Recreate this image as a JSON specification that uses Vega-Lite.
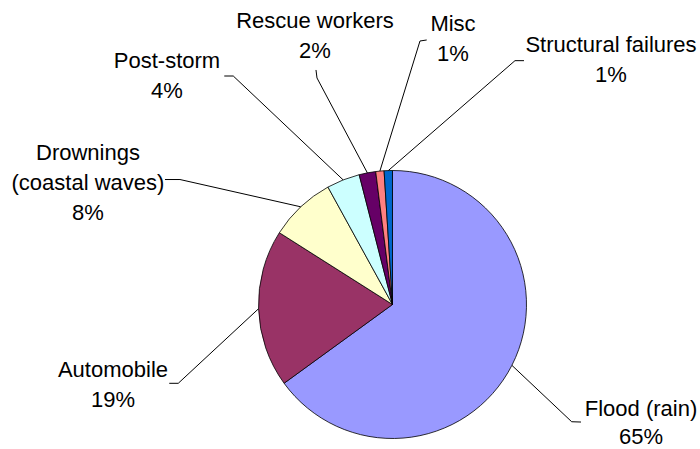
{
  "$schema": "https://vega.github.io/schema/vega-lite/v6.json",
  "width": 700,
  "height": 449,
  "padding": 0,
  "autosize": {"type": "none"},
  "background": "white",
  "config": {
    "view": {"stroke": null},
    "text": {"font": "Liberation Sans", "fontSize": 22, "lineHeight": 30, "align": "center", "baseline": "alphabetic", "lineBreak": "\n", "color": "#000000"},
    "rule": {"color": "#000000", "strokeWidth": 1}
  },
  "data": {
    "values": [
      {"cause": "Flood (rain)", "pct": 65, "label": "Flood (rain)\n65%"},
      {"cause": "Automobile", "pct": 19, "label": "Automobile\n19%"},
      {"cause": "Drownings (coastal waves)", "pct": 8, "label": "Drownings\n(coastal waves)\n8%"},
      {"cause": "Post-storm", "pct": 4, "label": "Post-storm\n4%"},
      {"cause": "Rescue workers", "pct": 2, "label": "Rescue workers\n2%"},
      {"cause": "Misc", "pct": 1, "label": "Misc\n1%"},
      {"cause": "Structural failures", "pct": 1, "label": "Structural failures\n1%"}
    ]
  },
  "transform": [
    {"window": [{"op": "sum", "field": "pct", "as": "s1"}], "frame": [null, 0]},
    {"calculate": "datum.s1 - datum.pct", "as": "s0"},
    {"calculate": "(datum.s0 + datum.s1) / 100 * PI", "as": "mid"},
    {"calculate": "sin(datum.mid)", "as": "ex"},
    {"calculate": "cos(datum.mid)", "as": "ey"}
  ],
  "encoding": {
    "x": {"field": "ex", "type": "quantitative", "scale": {"domain": [-2.9291, 2.29478], "nice": false, "zero": false}, "axis": null},
    "y": {"field": "ey", "type": "quantitative", "scale": {"domain": [-1.07836, 2.27239], "nice": false, "zero": false}, "axis": null}
  },
  "layer": [
    {
      "mark": {"type": "arc", "outerRadius": 134, "stroke": "#000000", "strokeWidth": 0.8},
      "encoding": {
        "x": {"datum": 0, "type": "quantitative", "scale": {"domain": [-2.9291, 2.29478], "nice": false, "zero": false}, "axis": null},
        "y": {"datum": 0, "type": "quantitative", "scale": {"domain": [-1.07836, 2.27239], "nice": false, "zero": false}, "axis": null},
        "theta": {"field": "s0", "type": "quantitative", "stack": null, "scale": {"domain": [0, 100], "range": [0, 6.283185307179586]}},
        "theta2": {"field": "s1"},
        "color": {
          "field": "cause", "type": "nominal", "legend": null,
          "scale": {
            "domain": ["Flood (rain)", "Automobile", "Drownings (coastal waves)", "Post-storm", "Rescue workers", "Misc", "Structural failures"],
            "range": ["#9999FF", "#993366", "#FFFFCC", "#CCFFFF", "#660066", "#FF8080", "#0066CC"]
          }
        }
      }
    },
    {
      "transform": [{"filter": "datum.cause === 'Flood (rain)'"}],
      "encoding": {"x2": {"field": "ex"}, "y2": {"field": "ey"}},
      "layer": [
        {"mark": {"type": "rule", "x2Offset": 59.8, "y2Offset": 56.4}},
        {"mark": {"type": "rule", "xOffset": 59.8, "yOffset": 56.4, "x2Offset": 69.1, "y2Offset": 56.7}},
        {"mark": {"type": "text", "dx": 129.1, "dy": 50.2, "lineHeight": 28}, "encoding": {"text": {"field": "label"}, "x2": null, "y2": null}}
      ]
    },
    {
      "transform": [{"filter": "datum.cause === 'Automobile'"}],
      "encoding": {"x2": {"field": "ex"}, "y2": {"field": "ey"}},
      "layer": [
        {"mark": {"type": "rule", "x2Offset": -80.3, "y2Offset": 74.6}},
        {"mark": {"type": "rule", "xOffset": -80.3, "yOffset": 74.6, "x2Offset": -89.3, "y2Offset": 74.6}},
        {"mark": {"type": "text", "dx": -145.6, "dy": 68.3}, "encoding": {"text": {"field": "label"}, "x2": null, "y2": null}}
      ]
    },
    {
      "transform": [{"filter": "datum.cause === 'Drownings (coastal waves)'"}],
      "encoding": {"x2": {"field": "ex"}, "y2": {"field": "ey"}},
      "layer": [
        {"mark": {"type": "rule", "x2Offset": -120.8, "y2Offset": -27.3}},
        {"mark": {"type": "rule", "xOffset": -120.8, "yOffset": -27.3, "x2Offset": -135.8, "y2Offset": -27.3}},
        {"mark": {"type": "text", "dx": -212.8, "dy": -46.8}, "encoding": {"text": {"field": "label"}, "x2": null, "y2": null}}
      ]
    },
    {
      "transform": [{"filter": "datum.cause === 'Post-storm'"}],
      "encoding": {"x2": {"field": "ex"}, "y2": {"field": "ey"}},
      "layer": [
        {"mark": {"type": "rule", "x2Offset": -109.9, "y2Offset": -103.9}},
        {"mark": {"type": "rule", "xOffset": -109.9, "yOffset": -103.9, "x2Offset": -118.9, "y2Offset": -103.9}},
        {"mark": {"type": "text", "dx": -176.2, "dy": -111.9}, "encoding": {"text": {"field": "label"}, "x2": null, "y2": null}}
      ]
    },
    {
      "transform": [{"filter": "datum.cause === 'Rescue workers'"}],
      "encoding": {"x2": {"field": "ex"}, "y2": {"field": "ey"}},
      "layer": [
        {"mark": {"type": "rule", "x2Offset": -50.4, "y2Offset": -94.9}},
        {"mark": {"type": "rule", "xOffset": -50.4, "yOffset": -94.9, "x2Offset": -51.4, "y2Offset": -102.9}},
        {"mark": {"type": "text", "dx": -52.4, "dy": -144.4}, "encoding": {"text": {"field": "label"}, "x2": null, "y2": null}}
      ]
    },
    {
      "transform": [{"filter": "datum.cause === 'Misc'"}],
      "encoding": {"x2": {"field": "ex"}, "y2": {"field": "ey"}},
      "layer": [
        {"mark": {"type": "rule", "x2Offset": 40.1, "y2Offset": -130.1}},
        {"mark": {"type": "rule", "xOffset": 40.1, "yOffset": -130.1, "x2Offset": 46.8, "y2Offset": -131.1}},
        {"mark": {"type": "text", "dx": 73.1, "dy": -139.6}, "encoding": {"text": {"field": "label"}, "x2": null, "y2": null}}
      ]
    },
    {
      "transform": [{"filter": "datum.cause === 'Structural failures'"}],
      "encoding": {"x2": {"field": "ex"}, "y2": {"field": "ey"}},
      "layer": [
        {"mark": {"type": "rule", "x2Offset": 126.7, "y2Offset": -109.9}},
        {"mark": {"type": "rule", "xOffset": 126.7, "yOffset": -109.9, "x2Offset": 135.7, "y2Offset": -109.9}},
        {"mark": {"type": "text", "dx": 222.7, "dy": -118.6}, "encoding": {"text": {"field": "label"}, "x2": null, "y2": null}}
      ]
    }
  ]
}
